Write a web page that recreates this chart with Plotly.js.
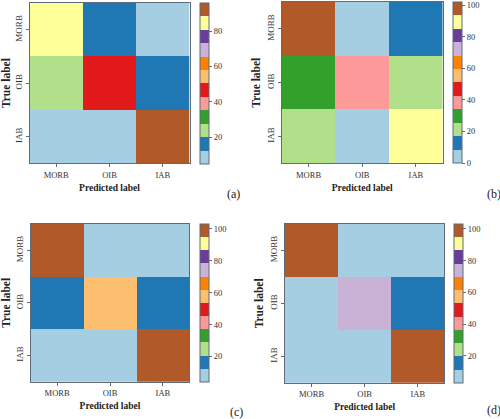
<!DOCTYPE html>
<html>
<head>
<meta charset="utf-8">
<script src="https://cdn.plot.ly/plotly-3.0.1.min.js"></script>
<style>html,body{margin:0;padding:0;background:#fff;}#chart{width:500px;height:419px;}</style>
</head>
<body>
<div id="chart"></div>
<script>
// Data
const predictedLabels = ['MORB', 'OIB', 'IAB'];
const trueLabels = ['MORB', 'OIB', 'IAB'];
const matrixA = [[85, 16, 5], [24, 47, 16], [5, 5, 96]];
const matrixB = [[102, 0, 13], [30, 38, 21], [22, 4, 90]];
const matrixC = [[103, 4, 4], [16, 58, 16], [4, 4, 103]];
const matrixD = [[103, 3, 3], [3, 74, 16], [3, 3, 103]];
const panelLetters = ['(a)', '(b)', '(c)', '(d)'];
const colorbarTicks = [0, 20, 40, 60, 80, 100];

const paired = ['#a6cee3','#1f78b4','#b2df8a','#33a02c','#fb9a99','#e31a1c',
                '#fdbf6f','#ff7f00','#cab2d6','#6a3d9a','#ffff99','#b15928'];
const cs = [];
paired.forEach((c, i) => { cs.push([i / 12, c]); cs.push([(i + 1) / 12, c]); });

const FONT = 'Liberation Serif, Times New Roman, serif';
const lineCol = '#5f6b78';

// panel geometry (pixels)
const W = 500, H = 419;
const panels = [
  {z: matrixA, x0: 29.5, x1: 189.5, y0: 3, y1: 163.3, cbx: 200, cby0: 2.7, cby1: 163.3, lx: 233.5, ly: 193.5},
  {z: matrixB, x0: 281.7, x1: 442.7, y0: 2, y1: 163.3, cbx: 452.5, cby0: 2, cby1: 163.3, lx: 494, ly: 193.5},
  {z: matrixC, x0: 30.7, x1: 189.3, y0: 224, y1: 381.7, cbx: 199.5, cby0: 224, cby1: 381.7, lx: 236.5, ly: 411.5},
  {z: matrixD, x0: 285, x1: 444.3, y0: 224, y1: 382.7, cbx: 454, cby0: 224, cby1: 382.7, lx: 494, ly: 410}
];

const data = [];
const layout = {
  width: W, height: H,
  margin: {l: 0, r: 0, t: 0, b: 0},
  paper_bgcolor: '#fff', plot_bgcolor: '#fff',
  font: {family: FONT, color: '#333', size: 9},
  showlegend: false,
  annotations: []
};

panels.forEach((p, i) => {
  const n = i === 0 ? '' : String(i + 1);
  data.push({
    type: 'heatmap',
    x: predictedLabels, y: trueLabels, z: p.z,
    xaxis: 'x' + n, yaxis: 'y' + n,
    colorscale: cs,
    hoverinfo: 'skip',
    colorbar: {
      x: p.cbx / W, xanchor: 'left', xpad: 0, ypad: 0,
      y: 1 - p.cby0 / H, yanchor: 'top',
      lenmode: 'pixels', len: p.cby1 - p.cby0,
      thickness: 9,
      outlinewidth: 1, outlinecolor: lineCol,
      tickmode: 'array', tickvals: colorbarTicks,
      ticklabeloverflow: 'allow',
      ticks: 'outside', ticklen: 3, tickcolor: lineCol, tickwidth: 1,
      tickfont: {family: FONT, size: 8.5, color: '#333'}
    }
  });
  layout['xaxis' + n] = {
    domain: [p.x0 / W, p.x1 / W],
    anchor: 'y' + n,
    showline: true, mirror: true, linecolor: lineCol, linewidth: 1,
    ticks: 'outside', ticklen: 3, tickcolor: lineCol,
    tickfont: {family: FONT, size: 8.5, color: '#333'},
    title: {text: '<b>Predicted label</b>', font: {family: FONT, size: 9.5, color: '#222'}, standoff: 5},
    showgrid: false, zeroline: false, fixedrange: true
  };
  layout['yaxis' + n] = {
    domain: [1 - p.y1 / H, 1 - p.y0 / H],
    anchor: 'x' + n,
    autorange: 'reversed',
    showline: true, mirror: true, linecolor: lineCol, linewidth: 1,
    ticks: 'outside', ticklen: 3, tickcolor: lineCol,
    tickangle: -90,
    tickfont: {family: FONT, size: 9, color: '#333'},
    title: {text: '<b>True label</b>', font: {family: FONT, size: 11.5, color: '#222'}, standoff: 3},
    showgrid: false, zeroline: false, fixedrange: true
  };
  layout.annotations.push({
    text: panelLetters[i], xref: 'paper', yref: 'paper',
    x: p.lx / W, y: 1 - p.ly / H, xanchor: 'center', yanchor: 'middle',
    showarrow: false, font: {family: FONT, size: 12, color: '#222'}
  });
});

Plotly.newPlot('chart', data, layout, {displayModeBar: false, staticPlot: true});
</script>
</body>
</html>
